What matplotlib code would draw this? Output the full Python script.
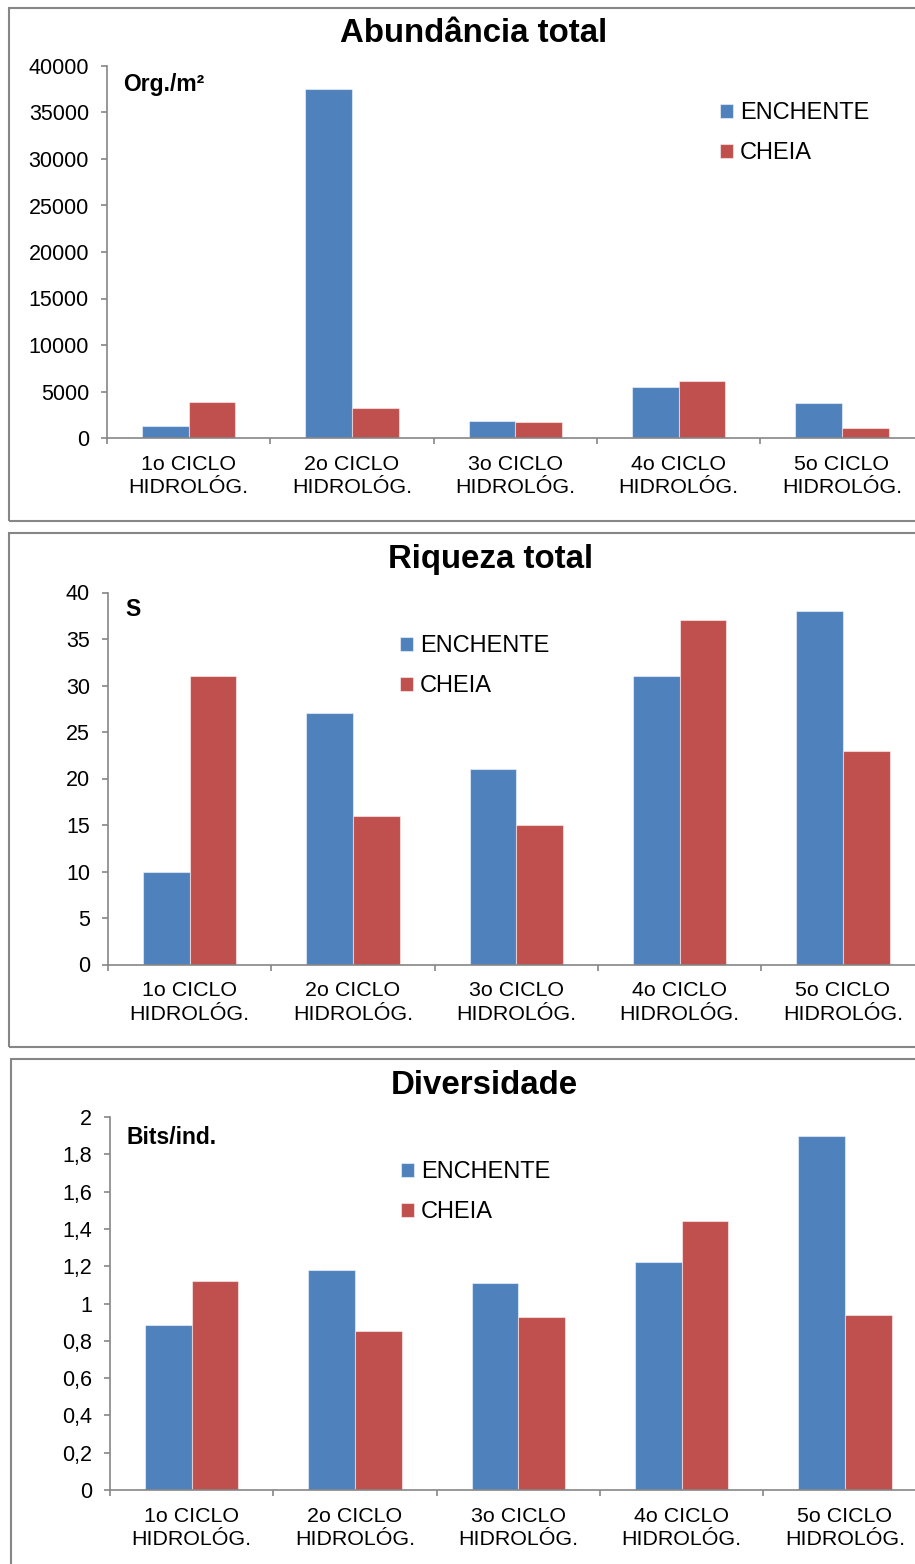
import numpy as np
import matplotlib
matplotlib.use("Agg")
import matplotlib.pyplot as plt
from matplotlib.patches import Rectangle

plt.rcParams['font.family'] = ['Liberation Sans', 'DejaVu Sans']

# Dados por ciclo hidrológico
ciclos = ["1o CICLO\nHIDROLÓG.", "2o CICLO\nHIDROLÓG.", "3o CICLO\nHIDROLÓG.",
          "4o CICLO\nHIDROLÓG.", "5o CICLO\nHIDROLÓG."]
series = ["ENCHENTE", "CHEIA"]

abund_enchente = [1250, 37500, 1800, 5500, 3800]
abund_cheia = [3900, 3200, 1750, 6100, 1100]

riq_enchente = [10, 27, 21, 31, 38]
riq_cheia = [31, 16, 15, 37, 23]

div_enchente = [0.885, 1.18, 1.11, 1.225, 1.90]
div_cheia = [1.12, 0.85, 0.93, 1.445, 0.94]

abund_ticks = [0, 5000, 10000, 15000, 20000, 25000, 30000, 35000, 40000]
riq_ticks = [0, 5, 10, 15, 20, 25, 30, 35, 40]
div_ticks = [0, 0.2, 0.4, 0.6, 0.8, 1.0, 1.2, 1.4, 1.6, 1.8, 2.0]
div_ticklabels = ["0", "0,2", "0,4", "0,6", "0,8", "1", "1,2", "1,4", "1,6", "1,8", "2"]

AZUL = "#4F81BD"
VERMELHO = "#C0504D"
CINZA = "#868686"

W, H = 915, 1564
fig = plt.figure(figsize=(W / 100, H / 100), dpi=100)


def fx(px):
    return px / W


def fy(py):
    return 1 - py / H


def caixa(x0, y0, x1, y1):
    fig.patches.append(Rectangle((fx(x0), fy(y1)), fx(x1) - fx(x0), fy(y0) - fy(y1),
                                 transform=fig.transFigure, fill=False,
                                 edgecolor=CINZA, linewidth=1.5))


def painel(left, top, bottom, enchente, cheia, ticks, ticklabels, titulo, tx, ty,
           unidade, ux, uy, leg_x, leg_y):
    largura = 5 * 163.3
    ax = fig.add_axes([fx(left), fy(bottom), largura / W, (bottom - top) / H])
    x = np.arange(len(ciclos))
    w = 0.2857
    b1 = ax.bar(x - w / 2, enchente, w, color=AZUL, edgecolor=(1, 1, 1, 0.5),
                linewidth=0.8, label=series[0])
    b2 = ax.bar(x + w / 2, cheia, w, color=VERMELHO, edgecolor=(1, 1, 1, 0.5),
                linewidth=0.8, label=series[1])
    ax.set_xlim(-0.5, 4.5)
    ax.set_ylim(ticks[0], ticks[-1])
    ax.set_yticks(ticks)
    ax.set_yticklabels(ticklabels, fontsize=15.5)
    ax.set_xticks(x)
    ax.set_xticklabels(ciclos, fontsize=15.4, linespacing=1.3)
    ax.set_xticks(np.arange(-0.5, 5.0, 1.0), minor=True)
    ax.tick_params(axis='x', which='major', length=0, pad=12)
    ax.tick_params(axis='x', which='minor', length=4.5, color=CINZA, width=1.2)
    ax.tick_params(axis='y', length=4.5, color=CINZA, width=1.2, pad=8.5)
    for s in ['top', 'right']:
        ax.spines[s].set_visible(False)
    for s in ['left', 'bottom']:
        ax.spines[s].set_color(CINZA)
        ax.spines[s].set_linewidth(1.2)
    ax.patch.set_visible(False)
    fig.text(fx(tx), fy(ty), titulo, fontsize=23.8, fontweight='bold',
             ha='center', va='center')
    fig.text(fx(ux), fy(uy), unidade, fontsize=16.5, fontweight='bold',
             ha='left', va='center')
    ax.legend(handles=[b1, b2], loc='upper left',
              bbox_to_anchor=(fx(leg_x), fy(leg_y)), bbox_transform=fig.transFigure,
              frameon=False, fontsize=17, handlelength=0.55, handleheight=0.55,
              handletextpad=0.3, labelspacing=0.78, borderpad=0, borderaxespad=0)
    return ax


# Abundância
caixa(9, 8, 930, 521)
painel(107, 66, 438, abund_enchente, abund_cheia, abund_ticks,
       [str(t) for t in abund_ticks], "Abundância total", 474, 33,
       "Org./m²", 123, 84, 720, 102)

# Riqueza
caixa(9, 533, 930, 1047)
painel(108, 592.5, 964.5, riq_enchente, riq_cheia, riq_ticks,
       [str(t) for t in riq_ticks], "Riqueza total", 491, 560,
       "S", 125, 610, 400, 635)

# Diversidade
caixa(11, 1059, 930, 1580)
painel(110, 1117, 1490, div_enchente, div_cheia, div_ticks,
       div_ticklabels, "Diversidade", 484, 1085,
       "Bits/ind.", 127, 1137, 401, 1161)

fig.savefig("out.png", dpi=100)
